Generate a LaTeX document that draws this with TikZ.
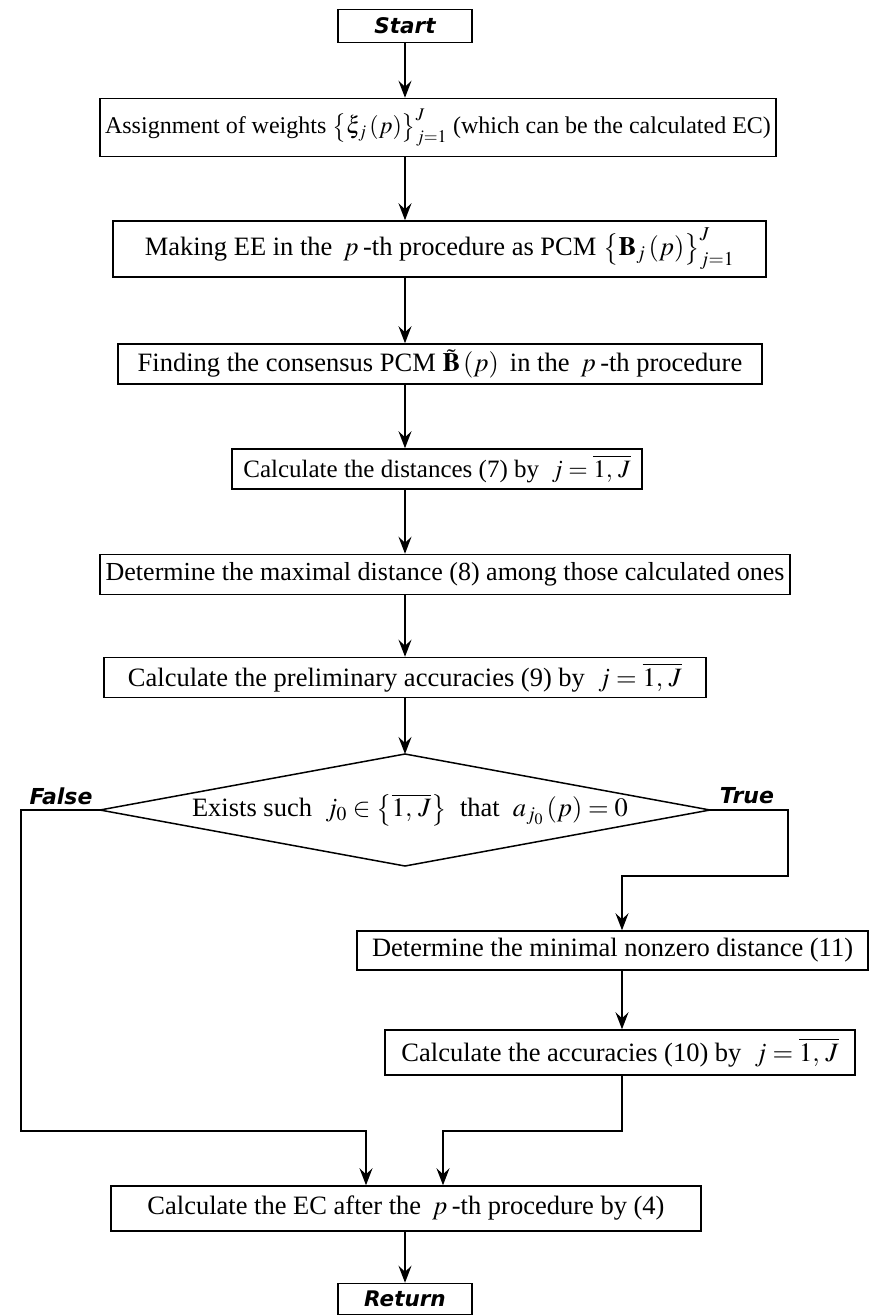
\documentclass[tikz,border=0pt]{standalone}
\usepackage{mathptmx}
\usepackage{fontspec}
\setmainfont{Liberation Serif}
\newfontfamily\labelfont{DejaVu Sans Bold Oblique}
\usetikzlibrary{arrows.meta}

\newcommand{\oneJ}{\overline{1,\,J}}

\begin{document}
\begin{tikzpicture}[x=1pt,y=-1pt,
  box/.style={draw, line width=1.5pt, inner sep=0pt, align=center,
    font=\fontsize{26.5}{31}\selectfont},
  term/.style={draw, line width=1.5pt, inner sep=0pt,
    font=\fontsize{21.5}{25}\selectfont\labelfont},
  tag/.style={inner sep=0pt, font=\fontsize{22}{26}\selectfont\labelfont},
  flow/.style={line width=1.3pt, -{Stealth[length=17pt,width=13pt,inset=6pt]}},
  link/.style={line width=1.3pt}
]
\useasboundingbox (0,0) rectangle (873,1315);

% main axis and right-hand branch axis
\coordinate (axis) at (405,0);
\coordinate (rax) at (622,0);

\node[term, minimum width=134pt, minimum height=33pt] (start) at (405,26) {Start};

\node[box, minimum width=676pt, minimum height=58pt, font=\fontsize{24}{29}\selectfont] (s1) at (438,127.5)
  {Assignment of weights $\left\{\xi_j\left(p\right)\right\}_{j=1}^{J}$ (which can be the calculated EC)};

\node[box, minimum width=653pt, minimum height=56pt] (s2) at (439.5,249)
  {Making EE in the~\,$p$\,-th procedure as PCM $\left\{\mathbf{B}_j\left(p\right)\right\}_{j=1}^{J}$};

\node[box, minimum width=644pt, minimum height=40pt] (s3) at (440,364)
  {Finding the consensus PCM $\tilde{\mathbf{B}}\left(p\right)$\,\ in the~\,$p$\,-th procedure};

\node[box, minimum width=410pt, minimum height=40pt, font=\fontsize{25}{30}\selectfont] (s4) at (437,469)
  {Calculate the distances (7) by~ $j=\oneJ$};

\node[box, minimum width=690pt, minimum height=40pt, font=\fontsize{26}{31}\selectfont] (s5) at (445,574.5)
  {Determine the maximal distance (8) among those calculated ones};

\node[box, minimum width=602pt, minimum height=40pt] (s6) at (405,677.5)
  {Calculate the preliminary accuracies (9) by~ $j=\oneJ$};

% decision
\node[inner sep=0pt, font=\fontsize{26.5}{31}\selectfont] (cond) at (410,810)
  {Exists such~ $j_0\in\left\{\oneJ\right\}$~ that~ $a_{j_0}\left(p\right)=0$};
\coordinate (dT) at (405,754);
\coordinate (dR) at (710,810);
\coordinate (dB) at (405,866);
\coordinate (dL) at (100,810);
\draw[line width=1.5pt] (dT) -- (dR) -- (dB) -- (dL) -- cycle;

\node[tag] (ftag) at (61,796) {False};
\node[tag] (ttag) at (747,796) {True};

\node[box, minimum width=511pt, minimum height=39pt] (s7) at (612.5,950.5)
  {Determine the minimal nonzero distance (11)};

\node[box, minimum width=470pt, minimum height=45pt] (s8) at (620,1052.5)
  {Calculate the accuracies (10) by~ $j=\oneJ$};

\node[box, minimum width=590pt, minimum height=45pt] (s9) at (406,1208.5)
  {Calculate the EC after the~\,$p$\,-th procedure by (4)};

\node[term, minimum width=134pt, minimum height=31pt] (ret) at (405,1299) {Return};

% corners of the two branches
\coordinate (fcorner) at (21,1131);
\coordinate (tcorner) at (788,876);

% straight sequence
\draw[flow] (start.south) -- (s1.north -| axis);
\draw[flow] (s1.south -| axis) -- (s2.north -| axis);
\draw[flow] (s2.south -| axis) -- (s3.north -| axis);
\draw[flow] (s3.south -| axis) -- (s4.north -| axis);
\draw[flow] (s4.south -| axis) -- (s5.north -| axis);
\draw[flow] (s5.south -| axis) -- (s6.north -| axis);
\draw[flow] (s6.south -| axis) -- (dT);

% true branch
\draw[flow] (dR) -| (tcorner) -| (s7.north -| rax);
\draw[flow] (s7.south -| rax) -- (s8.north -| rax);
\draw[flow] (s8.south -| rax) -- (rax |- fcorner) -| ([xshift=37pt]s9.north);

% false branch
\draw[flow] (dL) -| (fcorner) -| ([xshift=-40pt]s9.north);

\draw[flow] (s9.south -| axis) -- (ret.north);
\end{tikzpicture}
\end{document}
